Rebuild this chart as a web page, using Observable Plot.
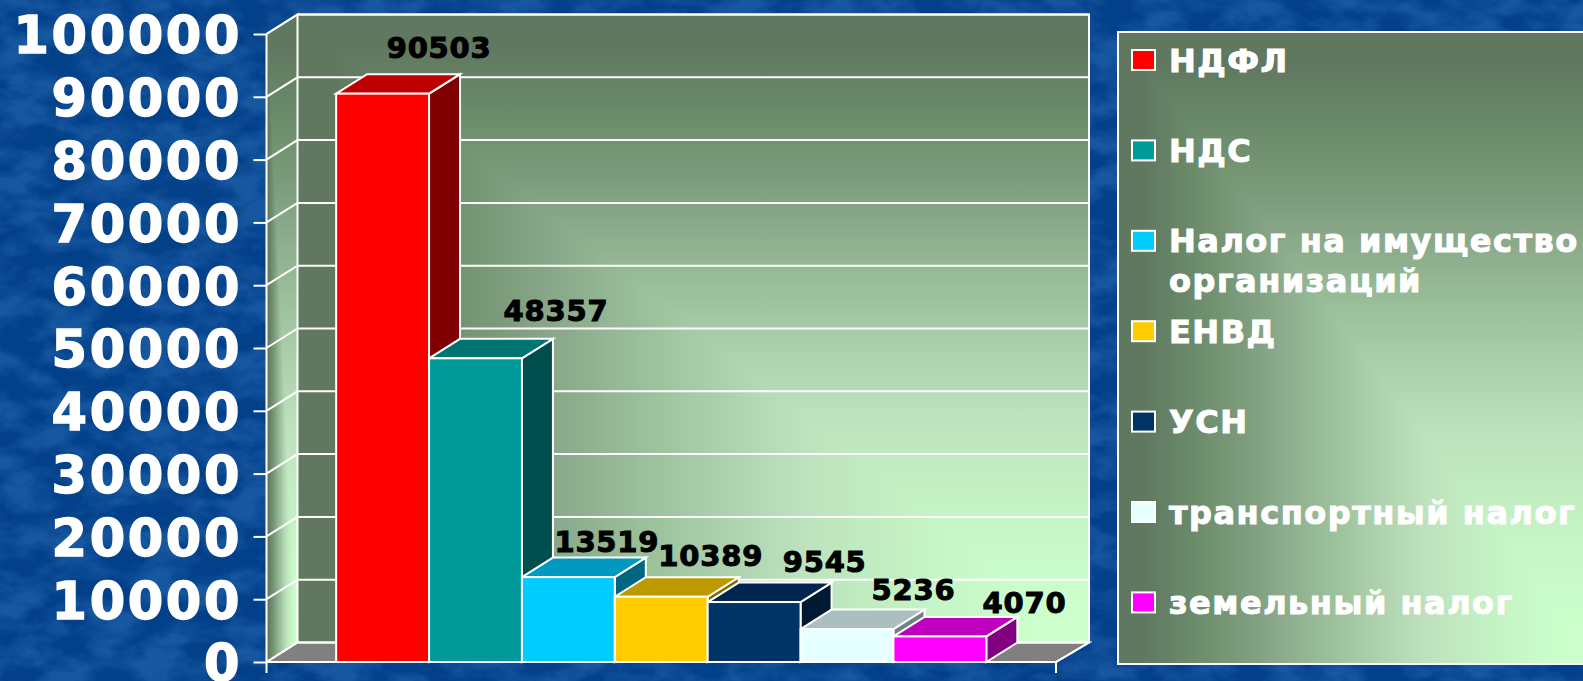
<!DOCTYPE html>
<html lang="ru">
<head>
<meta charset="utf-8">
<script src="https://cdn.jsdelivr.net/npm/d3@7"></script>
<script src="https://cdn.jsdelivr.net/npm/@observablehq/plot@0.6"></script>
<style>
html,body{margin:0;padding:0;background:#07458b;overflow:hidden}
svg{display:block}
g[aria-label="y-axis tick label"] text{letter-spacing:2.6px;stroke:#fff;stroke-width:1.4px}
g[aria-label="text"] text{letter-spacing:.8px;stroke:#000;stroke-width:1px}
</style>
</head>
<body>
<div id="chart"></div>
<script>
const names = ["НДФЛ","НДС","Налог на имущество организаций","ЕНВД","УСН","транспортный налог","земельный налог"];
const values = [90503,48357,13519,10389,9545,5236,4070];
const yTicks = [0,10000,20000,30000,40000,50000,60000,70000,80000,90000,100000];
const legendLines = [["НДФЛ"],["НДС"],["Налог на имущество","организаций"],["ЕНВД"],["УСН"],["транспортный налог"],["земельный налог"]];

const frontColors = ["#ff0000","#009999","#00ccff","#ffcc00","#003366","#e6ffff","#ff00ff"];
const topColors   = ["#bf0000","#007373","#0099bf","#bf9900","#002650","#acbfbf","#bf00bf"];
const sideColors  = ["#7f0000","#004d4d","#006680","#806600","#001a33","#738080","#800080"];
const labelDx = [56,80,38,49,70,66,84];
const labelDy = [-45,-47,-35,-41,-40,-39,-33];

const table = names.map((name,i)=>({name,value:values[i],i}));
const depthX = 31, depthY = 19.5;
const FONT = "'DejaVu Sans',Verdana,sans-serif";
const rampOffsets = [0.05,0.15,0.25,0.34,0.45,0.545,0.64,0.74,0.84,0.93];
const rampColors = ["#607860","#6a8a6a","#7a9a7a","#8cab8c","#9cc29c","#aed2ae","#bde2bd","#c2eec2","#c8f8c8","#ccffcc"];

const W = 1583, H = 681;
const ml = 266.5, mr = W-1056, mt = 34, mb = H-662;

function el(parent,tag,attrs){
  const s = parent.append(tag);
  for(const k in attrs) s.attr(k,attrs[k]);
  return s;
}
function gradient(defs,id,x1,y1,x2,y2){
  const g = el(defs,"linearGradient",{id,gradientUnits:"userSpaceOnUse",x1,y1,x2,y2});
  rampOffsets.forEach((o,i)=>el(g,"stop",{offset:o,"stop-color":rampColors[i]}));
}
// two perpendicular ramps under "darken" give a from-the-corner rectangular gradient
function cornerFill(root,id,x0,y0,x1,y1,points){
  const defs = root.select("defs");
  gradient(defs,id+"H",x0,0,x1,0);
  gradient(defs,id+"V",0,y0,0,y1);
  const g = root.append("g").style("isolation","isolate");
  el(g,"polygon",{points,fill:`url(#${id}V)`});
  el(g,"polygon",{points,fill:`url(#${id}H)`}).style("mix-blend-mode","darken");
}

function backdrop(){
  const root = d3.create("svg:g");
  root.append("defs");
  const f = el(root.select("defs"),"filter",{id:"mottle",x:0,y:0,width:"100%",height:"100%","color-interpolation-filters":"sRGB"});
  el(f,"feTurbulence",{type:"fractalNoise",baseFrequency:"0.022 0.04",numOctaves:5,seed:7});
  el(f,"feColorMatrix",{type:"matrix",values:"0 0 0 0 0.16  0 0 0 0 0.42  0 0 0 0 0.7  3 0 0 0 -1.1"});
  el(root,"rect",{x:0,y:0,width:W,height:H,fill:"#03408a"});
  el(root,"rect",{x:0,y:0,width:W,height:H,filter:"url(#mottle)",opacity:0.55});
  return root.node();
}

function walls(index,{x,y}){
  const root = d3.create("svg:g");
  root.append("defs");
  const xL = ml, xR = W-mr;
  const y0 = y(0), yT = y(100000);
  const bx0 = xL+depthX, bx1 = xR+depthX+2, by0 = yT-depthY, by1 = y0-depthY;
  cornerFill(root,"back",bx0,by0,bx1,by1,`${bx0},${by0} ${bx1},${by0} ${bx1},${by1} ${bx0},${by1}`);
  cornerFill(root,"left",xL,by0,bx0,y0,`${xL},${yT} ${bx0},${by0} ${bx0},${by1} ${xL},${y0}`);
  el(root,"polygon",{points:`${xL},${y0} ${bx0},${by1} ${bx1},${by1} ${xR},${y0}`,fill:"#808080",stroke:"#fff","stroke-width":2});
  const grid = root.append("g").attr("stroke","#fff").attr("stroke-width",2).attr("fill","none");
  for(const t of yTicks){
    const v = y(t);
    el(grid,"polyline",{points:`${xL},${v} ${bx0},${v-depthY} ${bx1},${v-depthY}`});
  }
  el(grid,"polyline",{points:`${xL},${yT} ${bx0},${by0} ${bx0},${by1}`});
  el(grid,"polyline",{points:`${bx0},${by0} ${bx1},${by0} ${bx1},${by1} ${xR},${y0}`});
  return root.node();
}

function faces(index,{x,y}){
  const root = d3.create("svg:g").attr("stroke","#fff").attr("stroke-width",2).attr("stroke-linejoin","miter");
  const bw = x(names[1])-x(names[0]);
  for(const d of table){
    const a = x(d.name), b = a+bw, t = y(d.value), z = y(0);
    el(root,"polygon",{points:`${b},${t} ${b+depthX},${t-depthY} ${b+depthX},${z-depthY} ${b},${z}`,fill:sideColors[d.i]});
    el(root,"polygon",{points:`${a},${t} ${a+depthX},${t-depthY} ${b+depthX},${t-depthY} ${b},${t}`,fill:topColors[d.i]});
  }
  return root.node();
}

function axisLines(index,{x,y}){
  const root = d3.create("svg:g").attr("stroke","#fff").attr("stroke-width",2);
  const xL = ml, xR = W-mr, z = y(0);
  el(root,"line",{x1:xL,x2:xR,y1:z,y2:z});
  el(root,"line",{x1:xL,x2:xL,y1:y(100000),y2:z+11});
  el(root,"line",{x1:xR,x2:xR,y1:z,y2:z+11});
  return root.node();
}

function legend(){
  const root = d3.create("svg:g").attr("text-anchor","start");
  root.append("defs");
  const x0 = 1118, y0 = 32, x1 = 1600, y1 = 664;
  cornerFill(root,"lg",x0,y0,x1,y1,`${x0},${y0} ${x1},${y0} ${x1},${y1} ${x0},${y1}`);
  el(root,"rect",{x:x0,y:y0,width:x1-x0,height:y1-y0,fill:"none",stroke:"#fff","stroke-width":2});
  const fs = 32, step = 90.4;
  legendLines.forEach((lines,i)=>{
    const cy = 60+i*step;
    el(root,"rect",{x:1132,y:cy-10,width:23,height:20,fill:frontColors[i],stroke:"#fff","stroke-width":2});
    lines.forEach((line,j)=>{
      el(root,"text",{x:1169,y:cy+j*40+fs*0.365,fill:"#fff",stroke:"#fff","stroke-width":1,"letter-spacing":1.5,
        "font-family":FONT,"font-weight":"bold","font-size":fs}).text(line);
    });
  });
  return root.node();
}

const chart = Plot.plot({
  width:W, height:H,
  marginLeft:ml, marginRight:mr, marginTop:mt, marginBottom:mb,
  style:{background:"transparent",overflow:"hidden"},
  x:{type:"band",domain:names,paddingInner:0,paddingOuter:0.75,round:false,axis:null},
  y:{domain:[0,100000]},
  color:{domain:names,range:frontColors},
  marks:[
    backdrop,
    walls,
    faces,
    Plot.barY(table,{x:"name",y:"value",fill:"name",stroke:"#fff",strokeWidth:2}),
    axisLines,
    Plot.axisY({ticks:yTicks,tickSize:13,label:null,fill:"none",stroke:"#fff",strokeWidth:2}),
    Plot.axisY({ticks:yTicks,tickFormat:d=>String(d),tickSize:0,tickPadding:25,label:null,dy:2.5,
      fontSize:51,fontWeight:"bold",fontFamily:FONT,fill:"#fff"}),
    ...table.map(d=>Plot.text([d],{x:"name",y:"value",text:r=>String(r.value),dx:labelDx[d.i],dy:labelDy[d.i],
      fill:"#000",fontSize:29,fontWeight:"bold",fontFamily:FONT})),
    legend
  ]
});
document.getElementById("chart").append(chart);
</script>
</body>
</html>
